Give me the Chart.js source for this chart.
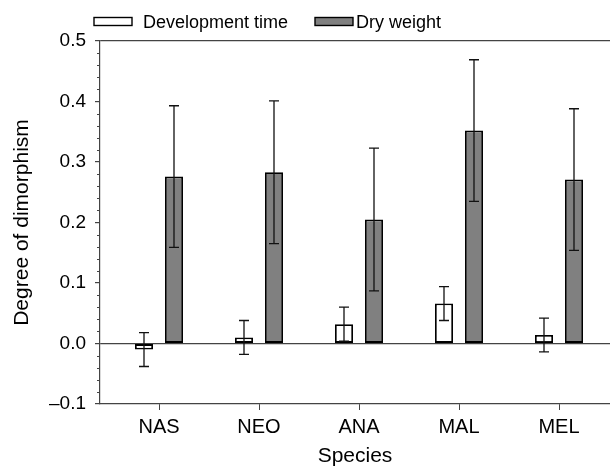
<!DOCTYPE html>
<html>
<head>
<meta charset="utf-8">
<script src="https://cdn.jsdelivr.net/npm/chart.js@4.4.1/dist/chart.umd.min.js"></script>
<style>
  body { margin: 0; background: #fff; }
  #wrap { width: 610px; height: 466px; }
</style>
</head>
<body>
<div id="wrap"><canvas id="myChart" width="610" height="466"></canvas></div>
<script>
var categories = ['NAS', 'NEO', 'ANA', 'MAL', 'MEL'];
var devTime = [-0.010, 0.010, 0.032, 0.066, 0.014];
var devErr = [0.028, 0.028, 0.028, 0.028, 0.028];
var dryWeight = [0.276, 0.283, 0.205, 0.352, 0.271];
var dryErr = [0.117, 0.118, 0.118, 0.117, 0.117];
var yTicks = [-0.1, 0.0, 0.1, 0.2, 0.3, 0.4, 0.5];

var FONT = 'Liberation Sans, Arial, Helvetica, sans-serif';
var AXIS = '#444';

function points(arr) {
    return arr.map(function (v, i) { return {x: i, y: v}; });
}

// error bars on top of every bar
var errorBars = {
    id: 'errorBars',
    afterDatasetsDraw: function (chart) {
        var ctx = chart.ctx;
        var yScale = chart.scales.y;
        var errs = [devErr, dryErr];
        ctx.save();
        ctx.strokeStyle = '#111';
        ctx.lineWidth = 1.3;
        chart.data.datasets.forEach(function (ds, di) {
            var meta = chart.getDatasetMeta(di);
            meta.data.forEach(function (bar, i) {
                var v = ds.data[i].y;
                var top = yScale.getPixelForValue(v + errs[di][i]);
                var bot = yScale.getPixelForValue(v - errs[di][i]);
                ctx.beginPath();
                ctx.moveTo(bar.x, top); ctx.lineTo(bar.x, bot);
                ctx.moveTo(bar.x - 5, top); ctx.lineTo(bar.x + 5, top);
                ctx.moveTo(bar.x - 5, bot); ctx.lineTo(bar.x + 5, bot);
                ctx.stroke();
            });
        });
        ctx.restore();
    }
};

// minor ticks on the y axis
var minorTicks = {
    id: 'minorTicks',
    afterDraw: function (chart) {
        var ctx = chart.ctx;
        var y = chart.scales.y;
        var left = chart.chartArea.left;
        ctx.save();
        ctx.strokeStyle = AXIS;
        ctx.lineWidth = 1;
        for (var k = -5; k <= 25; k++) {
            if (k % 5 === 0) continue;
            var py = Math.round(y.getPixelForValue(k * 0.02)) + 0.5;
            ctx.beginPath();
            ctx.moveTo(left - 3, py); ctx.lineTo(left, py);
            ctx.stroke();
        }
        ctx.restore();
    }
};

// legend above the plot
var topLegend = {
    id: 'topLegend',
    afterDraw: function (chart) {
        var ctx = chart.ctx;
        var boxX = [94, 315];
        var textX = [143, 356];
        ctx.save();
        ctx.font = '18px ' + FONT;
        ctx.textBaseline = 'alphabetic';
        chart.data.datasets.forEach(function (ds, i) {
            ctx.fillStyle = ds.backgroundColor;
            ctx.fillRect(boxX[i], 17.5, 38, 8);
            ctx.strokeStyle = '#000';
            ctx.lineWidth = 1.4;
            ctx.strokeRect(boxX[i], 17.5, 38, 8);
            ctx.fillStyle = '#000';
            ctx.fillText(ds.label, textX[i], 27.5);
        });
        ctx.restore();
    }
};

var ctx = document.getElementById('myChart').getContext('2d');
var chart = new Chart(ctx, {
    type: 'bar',
    data: {
        datasets: [
            {
                label: 'Development time',
                backgroundColor: '#ffffff',
                borderColor: '#000',
                borderWidth: 1.8,
                borderSkipped: false,
                data: points(devTime)
            },
            {
                label: 'Dry weight',
                backgroundColor: '#808080',
                borderColor: '#000',
                borderWidth: 1.8,
                borderSkipped: false,
                data: points(dryWeight)
            }
        ]
    },
    options: {
        responsive: false,
        animation: false,
        categoryPercentage: 0.6,
        barPercentage: 0.6,
        layout: { padding: { top: 41, right: 0, bottom: 0, left: 0 } },
        plugins: {
            legend: { display: false },
            tooltip: { enabled: false }
        },
        scales: {
            x: {
                type: 'linear',
                min: -0.59,
                max: 4.51,
                offset: false,
                afterBuildTicks: function (scale) {
                    scale.ticks = categories.map(function (c, i) { return {value: i}; });
                },
                afterFit: function (scale) { scale.height = 62; },
                grid: {
                    offset: false,
                    drawOnChartArea: false,
                    drawTicks: true,
                    tickLength: 6,
                    tickColor: AXIS
                },
                border: { display: true, color: AXIS, width: 1.2 },
                ticks: {
                    autoSkip: false,
                    maxRotation: 0,
                    padding: 5,
                    color: '#000',
                    font: { family: FONT, size: 20 },
                    callback: function (v) { return categories[v]; }
                },
                title: {
                    display: true,
                    text: 'Species',
                    color: '#000',
                    padding: { top: 0, bottom: -3 },
                    font: { family: FONT, size: 21 }
                }
            },
            y: {
                min: -0.1,
                max: 0.5,
                afterBuildTicks: function (scale) {
                    scale.ticks = yTicks.map(function (v) { return {value: v}; });
                },
                afterFit: function (scale) { scale.width = 100; },
                grid: {
                    drawTicks: true,
                    tickLength: 5,
                    tickColor: AXIS,
                    lineWidth: 1.2,
                    color: function (c) {
                        var v = c.tick ? c.tick.value : null;
                        return (v === 0 || v === 0.5) ? AXIS : 'rgba(0,0,0,0)';
                    }
                },
                border: { display: true, color: AXIS, width: 1.2 },
                ticks: {
                    padding: 9,
                    color: '#000',
                    font: { family: FONT, size: 19 },
                    callback: function (v) {
                        return (v < -1e-9 ? '\u2013' : '') + Math.abs(v).toFixed(1);
                    }
                },
                title: {
                    display: true,
                    text: 'Degree of dimorphism',
                    color: '#000',
                    padding: { top: 10, bottom: 0 },
                    font: { family: FONT, size: 21 }
                }
            }
        }
    },
    plugins: [errorBars, minorTicks, topLegend]
});
</script>
</body>
</html>
